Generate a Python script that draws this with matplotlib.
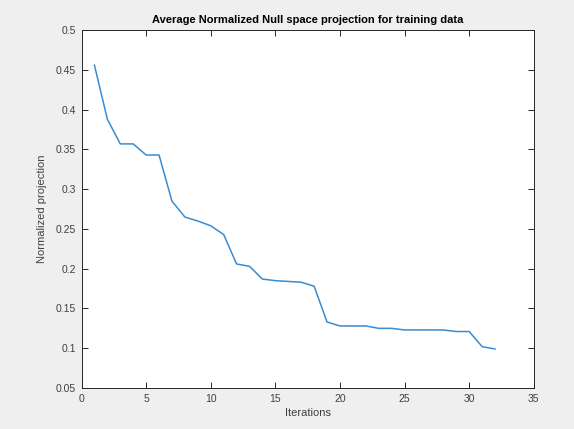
import matplotlib
matplotlib.use("Agg")
import matplotlib.pyplot as plt

# Average normalized null-space projection per iteration
iterations = list(range(1, 33))
projection = [0.456, 0.388, 0.357, 0.357, 0.343, 0.343, 0.285, 0.265,
              0.260, 0.254, 0.243, 0.206, 0.203, 0.187, 0.185, 0.184,
              0.183, 0.178, 0.133, 0.128, 0.128, 0.128, 0.125, 0.125,
              0.123, 0.123, 0.123, 0.123, 0.121, 0.121, 0.102, 0.099]

x_ticks = [0, 5, 10, 15, 20, 25, 30, 35]
y_ticks = [0.05, 0.1, 0.15, 0.2, 0.25, 0.3, 0.35, 0.4, 0.45, 0.5]
y_tick_labels = ["0.05", "0.1", "0.15", "0.2", "0.25", "0.3", "0.35", "0.4", "0.45", "0.5"]

plt.rcParams["font.family"] = ["Liberation Sans", "DejaVu Sans"]

fig = plt.figure(figsize=(5.74, 4.29), dpi=100, facecolor="#efefef")
ax = fig.add_axes([0.142, 0.0956, 0.788, 0.834])
ax.set_facecolor("white")

ax.plot(iterations, projection, color="#3a8bcf", linewidth=1.1)

ax.set_xlim(0, 35)
ax.set_ylim(0.05, 0.5)
ax.set_xticks(x_ticks)
ax.set_yticks(y_ticks)
ax.set_yticklabels(y_tick_labels)

for side in ax.spines.values():
    side.set_color("#262626")
    side.set_linewidth(0.7)
ax.tick_params(direction="in", top=True, right=True, length=4, width=0.7,
               color="#262626", labelcolor="#404040", labelsize=7.5, pad=4)

ax.set_title("Average Normalized Null space projection for training data",
             fontsize=8, fontweight="bold", color="black", pad=5)
ax.set_xlabel("Iterations", fontsize=8, color="#404040", labelpad=3)
ax.set_ylabel("Normalized projection", fontsize=8, color="#404040", labelpad=6)

fig.savefig("out.png", dpi=100, facecolor=fig.get_facecolor())
